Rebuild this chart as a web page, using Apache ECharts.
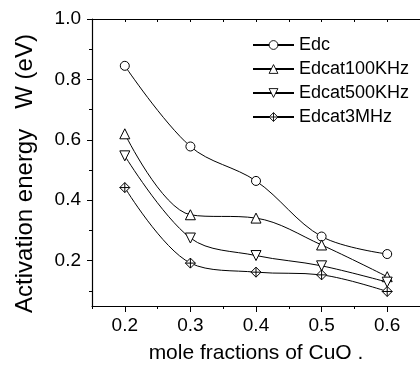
<!DOCTYPE html>
<html>
<head>
<meta charset="utf-8">
<script src="https://cdn.jsdelivr.net/npm/echarts@6/dist/echarts.min.js"></script>
<style>
html,body{margin:0;padding:0;background:#fff;}
#chart{width:420px;height:369px;}
</style>
</head>
<body>
<div id="chart"></div>
<script>
const xValues = [0.2, 0.3, 0.4, 0.5, 0.6];
const edc = [0.845, 0.578, 0.464, 0.280, 0.222];
const edcat100KHz = [0.620, 0.352, 0.341, 0.252, 0.147];
const edcat500KHz = [0.547, 0.275, 0.217, 0.183, 0.129];
const edcat3MHz = [0.442, 0.192, 0.162, 0.153, 0.098];
const seriesNames = ['Edc', 'Edcat100KHz', 'Edcat500KHz', 'Edcat3MHz'];
const xTickLabels = [0.2, 0.3, 0.4, 0.5, 0.6];
const yTickLabels = [0.2, 0.4, 0.6, 0.8, 1.0];
const yMinorTicks = [0.1, 0.3, 0.5, 0.7, 0.9];

const FONT = 'Liberation Sans, Arial, Helvetica, sans-serif';
const symbols = [
  'circle',
  'triangle',
  'path://M0,0 L10,0 L5,9 Z',
  'path://M5,0 L10,5 L5,10 L0,5 Z M5,0 L5,10 M0,5 L10,5'
];
const allData = [edc, edcat100KHz, edcat500KHz, edcat3MHz];

const chart = echarts.init(document.getElementById('chart'), null, {renderer: 'canvas'});
const axisLineStyle = {color: '#000', width: 1.2};

const option = {
  animation: false,
  backgroundColor: '#fff',
  grid: {left: 92, top: 19, bottom: 62, right: -9.5},
  legend: {
    orient: 'vertical',
    left: 252,
    top: 36,
    padding: 0,
    itemWidth: 41,
    itemHeight: 11,
    itemGap: 6,
    data: seriesNames,
    itemStyle: {borderWidth: 0.9},
    textStyle: {fontSize: 18, color: '#000', fontFamily: FONT}
  },
  xAxis: [
    {
      type: 'value', min: 0.15, max: 0.65, position: 'bottom',
      axisLine: {show: true, onZero: false, lineStyle: axisLineStyle},
      axisTick: {show: true, inside: false, length: 6, customValues: xTickLabels, lineStyle: {color: '#000', width: 1}},
      axisLabel: {customValues: xTickLabels, formatter: v => v.toFixed(1), fontSize: 19, color: '#000', margin: 10, fontFamily: FONT},
      splitLine: {show: false},
      name: 'mole fractions of CuO .',
      nameLocation: 'middle',
      nameGap: 37,
      nameTextStyle: {fontSize: 21, color: '#000', fontFamily: FONT}
    },
    {
      type: 'value', min: 0.15, max: 0.65, interval: 0.05, position: 'bottom',
      axisLine: {show: false, onZero: false},
      axisTick: {show: true, inside: false, length: 3, lineStyle: {color: '#000', width: 1}},
      axisLabel: {show: false},
      splitLine: {show: false}
    },
    {
      type: 'value', min: 0.15, max: 0.65, interval: 0.05, position: 'top',
      axisLine: {show: true, onZero: false, lineStyle: axisLineStyle},
      axisTick: {show: true, inside: true, length: 3, lineStyle: {color: '#000', width: 1}},
      axisLabel: {show: false},
      splitLine: {show: false}
    }
  ],
  yAxis: [
    {
      type: 'value', min: 0.05, max: 1.0, position: 'left',
      axisLine: {show: true, onZero: false, lineStyle: axisLineStyle},
      axisTick: {show: true, inside: false, length: 5, customValues: yTickLabels, lineStyle: {color: '#000', width: 1}},
      axisLabel: {customValues: yTickLabels, formatter: v => v.toFixed(1), fontSize: 19, color: '#000', margin: 11, fontFamily: FONT},
      splitLine: {show: false},
      name: 'Activation energy   W (eV)',
      nameLocation: 'middle',
      nameGap: 55,
      nameTextStyle: {fontSize: 24, color: '#000', fontFamily: FONT, padding: [0, 22, 0, 0]}
    },
    {
      type: 'value', min: 0.05, max: 1.0, position: 'left',
      axisLine: {show: false, onZero: false},
      axisTick: {show: true, inside: false, length: 3, customValues: yMinorTicks, lineStyle: {color: '#000', width: 1}},
      axisLabel: {show: false},
      splitLine: {show: false}
    }
  ],
  series: seriesNames.map((name, i) => ({
    name: name,
    type: 'line',
    xAxisIndex: 0,
    yAxisIndex: 0,
    smooth: 0.35,
    symbol: symbols[i],
    symbolSize: i === 0 ? 9 : 10,
    showAllSymbol: true,
    lineStyle: {color: '#000', width: 1},
    itemStyle: {color: '#fff', borderColor: '#000', borderWidth: 1},
    emphasis: {disabled: true},
    data: xValues.map((x, j) => [x, allData[i][j]])
  }))
};
chart.setOption(option);
</script>
</body>
</html>
